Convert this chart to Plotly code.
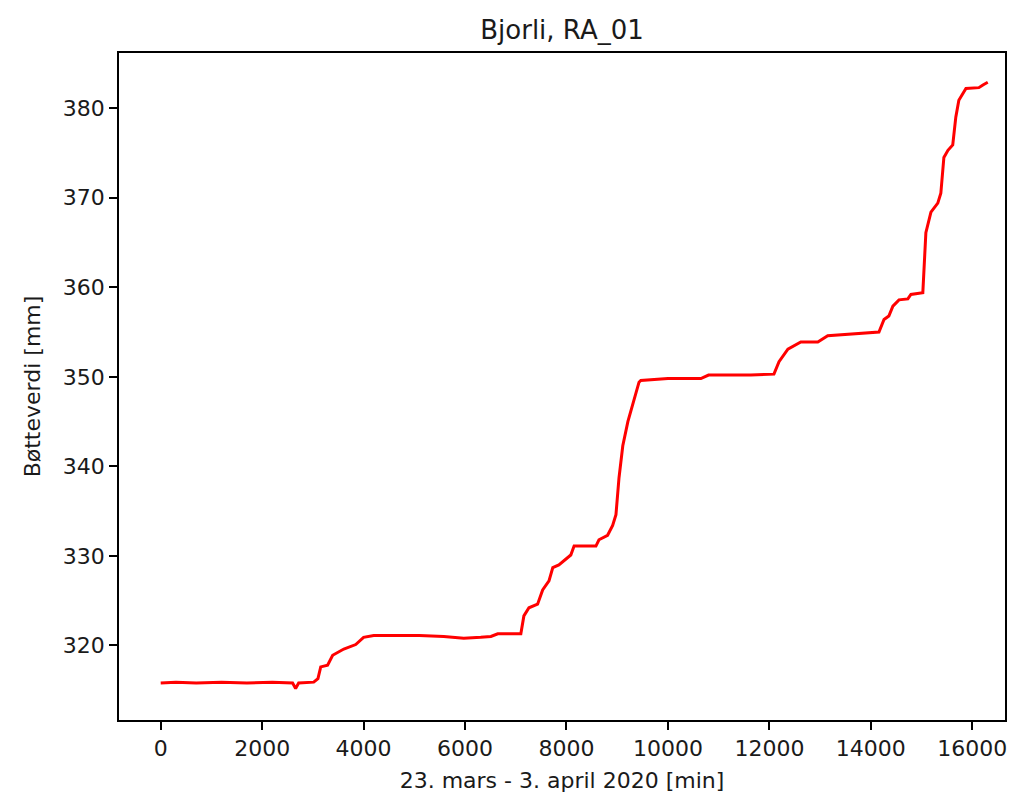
import plotly.graph_objects as go

minutes = [0, 300, 700, 1200, 1700, 2200, 2600, 2660, 2720, 3017, 3100, 3155, 3290, 3390,
           3610, 3845, 4000, 4200, 4670, 5100, 5580, 5975, 6310, 6510, 6645, 7060, 7100,
           7160, 7260, 7430, 7530, 7655, 7730, 7850, 8085, 8150, 8580, 8640, 8810, 8910,
           8975, 9035, 9110, 9210, 9305, 9430, 9465, 10000, 10650, 10800, 11635, 12090,
           12190, 12365, 12620, 12955, 13150, 13605, 14160, 14260, 14355, 14435, 14555,
           14730, 14790, 15025, 15085, 15185, 15320, 15380, 15440, 15520, 15615, 15675,
           15735, 15875, 16130, 16210, 16305]
bucket_mm = [315.8, 315.9, 315.8, 315.9, 315.8, 315.9, 315.8, 315.2, 315.8, 315.9, 316.3,
             317.6, 317.8, 318.9, 319.6, 320.1, 320.9, 321.1, 321.1, 321.1, 321.0, 320.8,
             320.9, 321.0, 321.3, 321.3, 321.3, 323.3, 324.2, 324.6, 326.2, 327.2, 328.7,
             329.0, 330.1, 331.1, 331.1, 331.8, 332.3, 333.4, 334.6, 338.7, 342.3, 345.0,
             346.8, 349.4, 349.6, 349.8, 349.8, 350.2, 350.2, 350.3, 351.7, 353.1, 353.9,
             353.9, 354.6, 354.8, 355.0, 356.4, 356.8, 357.9, 358.6, 358.7, 359.2, 359.4,
             366.1, 368.4, 369.4, 370.5, 374.5, 375.3, 375.9, 379.0, 380.9, 382.2, 382.3,
             382.6, 382.9]

x_ticks = [0, 2000, 4000, 6000, 8000, 10000, 12000, 14000, 16000]
x_tick_labels = ["0", "2000", "4000", "6000", "8000", "10000", "12000", "14000", "16000"]
y_ticks = [320, 330, 340, 350, 360, 370, 380]
y_tick_labels = ["320", "330", "340", "350", "360", "370", "380"]

font = "DejaVu Sans"

fig = go.Figure()
fig.add_trace(go.Scatter(x=minutes, y=bucket_mm, mode="lines",
                         line=dict(color="red", width=3), showlegend=False))

axis_common = dict(showline=True, mirror=True, linecolor="black", linewidth=1.8,
                   ticks="outside", ticklen=8, tickwidth=1.8, tickcolor="black",
                   showgrid=False, zeroline=False,
                   tickfont=dict(family=font, size=22, color="#1a1a1a"))

fig.update_layout(
    width=1019, height=801,
    margin=dict(l=119, r=14, t=53, b=78),
    paper_bgcolor="white", plot_bgcolor="white",
    font=dict(family=font, color="black"),
    title=dict(text="Bjorli, RA_01", font=dict(family=font, size=26, color="#1a1a1a"),
               x=0.5, xref="paper", xanchor="center",
               y=(801 - 30) / 801, yref="container", yanchor="middle"),
    xaxis=dict(range=[-822, 16645], tickvals=x_ticks, ticktext=x_tick_labels,
               title=dict(text="23. mars - 3. april 2020 [min]",
                          font=dict(family=font, size=22, color="#1a1a1a"), standoff=12),
               **axis_common),
    yaxis=dict(range=[311.67, 386.17], tickvals=y_ticks, ticktext=y_tick_labels,
               title=dict(text="Bøtteverdi [mm]",
                          font=dict(family=font, size=22, color="#1a1a1a"), standoff=16),
               **axis_common),
)

fig.write_html("out.html")
